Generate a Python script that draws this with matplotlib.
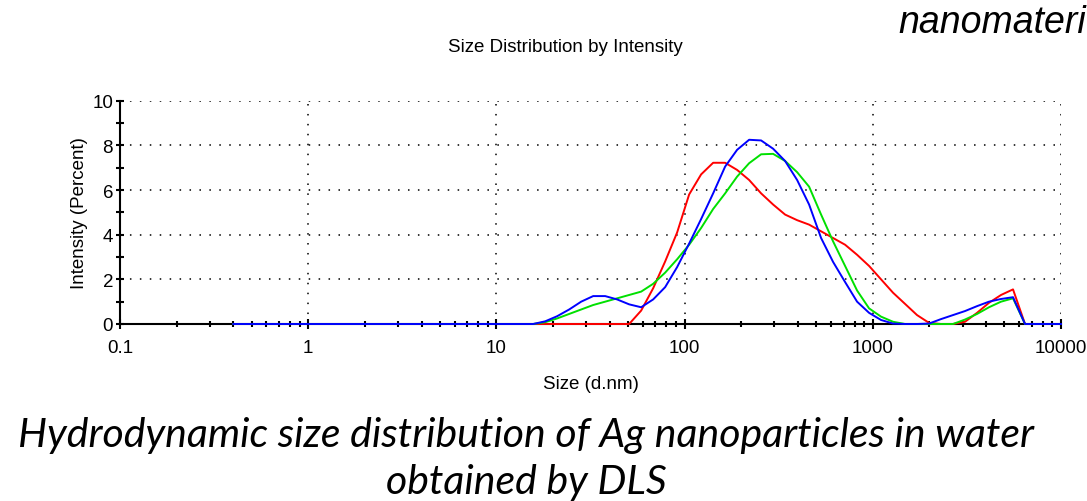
import matplotlib
matplotlib.use("Agg")
import matplotlib.pyplot as plt
from matplotlib.ticker import LogLocator, FixedLocator, NullFormatter

plt.rcParams['font.family'] = ['Liberation Sans', 'DejaVu Sans']

# Malvern size bins (d.nm)
sizes = [0.4, 0.463, 0.536, 0.621, 0.719, 0.833, 0.965, 1.117, 1.294, 1.499,
         1.736, 2.01, 2.328, 2.696, 3.122, 3.615, 4.187, 4.849, 5.615, 6.503,
         7.531, 8.721, 10.1, 11.7, 13.54, 15.69, 18.17, 21.04, 24.36, 28.21,
         32.67, 37.84, 43.82, 50.75, 58.77, 68.06, 78.82, 91.28, 105.7, 122.4,
         141.8, 164.2, 190.1, 220.2, 255.0, 295.3, 342.0, 396.1, 458.7, 531.2,
         615.1, 712.4, 825.0, 955.4, 1106, 1281, 1484, 1718, 1990, 2305,
         2669, 3091, 3580, 4145, 4801, 5560, 6439, 7456, 8635, 10000]

zeros_low = [0.0] * 25  # 0.4 .. 13.54 nm

red = zeros_low + [0.0, 0.0, 0.0, 0.0, 0.0,
                   0.0, 0.0, 0.0, 0.0, 0.6,
                   1.6, 2.8, 4.1, 5.8, 6.7,
                   7.22, 7.22, 6.9, 6.45, 5.85,
                   5.35, 4.9, 4.65, 4.45, 4.15,
                   3.85, 3.55, 3.1, 2.6, 2.0,
                   1.4, 0.9, 0.4, 0.05, 0.0,
                   0.0, 0.1, 0.5, 0.95, 1.3,
                   1.55, 0.0, 0.0, 0.0, 0.0]

green = zeros_low + [0.0, 0.08, 0.25, 0.45, 0.65,
                     0.85, 1.0, 1.15, 1.3, 1.45,
                     1.8, 2.3, 2.9, 3.55, 4.3,
                     5.15, 5.85, 6.6, 7.2, 7.6,
                     7.62, 7.3, 6.8, 6.15, 4.9,
                     3.7, 2.6, 1.5, 0.7, 0.33,
                     0.1, 0.0, 0.0, 0.0, 0.0,
                     0.0, 0.2, 0.45, 0.75, 1.0,
                     1.15, 0.0, 0.0, 0.0, 0.0]

blue = zeros_low + [0.0, 0.12, 0.35, 0.65, 1.0,
                    1.25, 1.25, 1.1, 0.88, 0.75,
                    1.1, 1.65, 2.55, 3.6, 4.7,
                    5.85, 7.05, 7.8, 8.25, 8.22,
                    7.85, 7.3, 6.45, 5.35, 3.85,
                    2.78, 1.88, 1.0, 0.5, 0.18,
                    0.02, 0.0, 0.0, 0.02, 0.22,
                    0.4, 0.58, 0.8, 1.0, 1.12,
                    1.2, 0.0, 0.0, 0.0, 0.0]

fig = plt.figure(figsize=(10.87, 5.02), dpi=100)
ax = fig.add_axes([120 / 1087, 1 - 325 / 502, (1061 - 120) / 1087, (325 - 101.7) / 502])

ax.plot(sizes, red, color='#ff0000', lw=1.4, zorder=3, clip_on=False)
ax.plot(sizes, green, color='#00e000', lw=1.4, zorder=3, clip_on=False)
ax.plot(sizes, blue, color='#0000ff', lw=1.4, zorder=4, clip_on=False)

ax.set_xscale('log')
ax.set_xlim(0.1, 10000)
ax.set_ylim(0, 10)

ax.spines['top'].set_visible(False)
ax.spines['right'].set_visible(False)
ax.spines['left'].set_linewidth(1.5)
ax.spines['bottom'].set_linewidth(1.5)

ax.xaxis.set_major_locator(FixedLocator([0.1, 1, 10, 100, 1000, 10000]))
ax.xaxis.set_minor_locator(LogLocator(base=10, subs=range(2, 10), numticks=20))
ax.xaxis.set_minor_formatter(NullFormatter())
ax.set_xticklabels(['0.1', '1', '10', '100', '1000', '10000'])
ax.set_yticks([0, 2, 4, 6, 8, 10])
ax.set_yticks([1, 3, 5, 7, 9], minor=True)

ax.tick_params(axis='x', which='major', direction='inout', length=7, width=1.5, pad=7, labelsize=13.5)
ax.tick_params(axis='x', which='minor', direction='inout', length=5, width=1.5)
ax.tick_params(axis='y', which='major', direction='inout', length=6, width=1.5, pad=2, labelsize=13.5)
ax.tick_params(axis='y', which='minor', direction='inout', length=6, width=1.5)

# dotted grid
grid_style = dict(color='black', lw=1.1, linestyle=(0, (1, 5.5)))
for gx in [1, 10, 100, 1000, 10000]:
    ax.axvline(gx, zorder=1, **grid_style)
for gy in [2, 4, 6, 8, 10]:
    ax.axhline(gy, zorder=1, **grid_style)

fig.text(565 / 1087, 1 - 47 / 502, 'Size Distribution by Intensity', ha='center', va='center', fontsize=13.5)
ax.set_xlabel('Size (d.nm)', fontsize=13.5, labelpad=14)
ax.set_ylabel('Intensity (Percent)', fontsize=13.5, labelpad=3)

fig.text(898 / 1087, 1 - 33 / 502, 'nanomateri', ha='left', va='baseline', fontsize=27, style='italic')

fig.text(526 / 1087, 1 - 436 / 502, 'Hydrodynamic size distribution of Ag nanoparticles in water',
         ha='center', va='center', fontsize=29.5, style='italic', family=['Lato', 'DejaVu Sans'])
fig.text(526 / 1087, 1 - 483 / 502, 'obtained by DLS',
         ha='center', va='center', fontsize=29.5, style='italic', family=['Lato', 'DejaVu Sans'])

fig.savefig('out.png', dpi=100)
